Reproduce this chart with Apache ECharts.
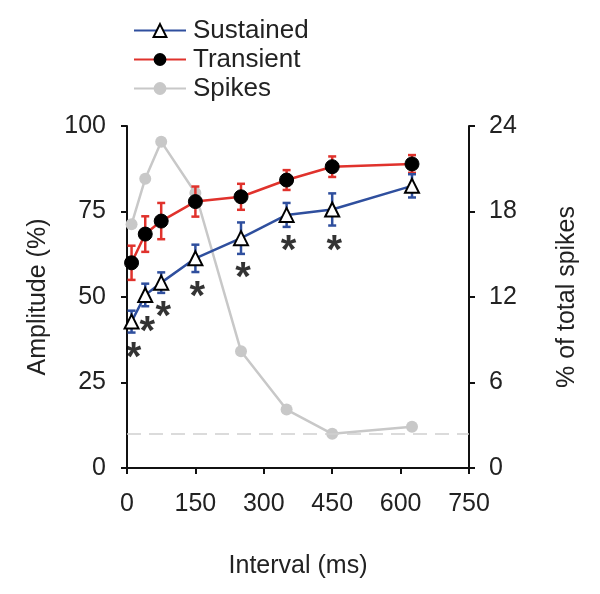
<!DOCTYPE html>
<html><head><meta charset="utf-8">
<script src="https://cdn.jsdelivr.net/npm/echarts@6/dist/echarts.min.js"></script>
<style>html,body{margin:0;padding:0;background:#fff}#c{width:600px;height:594px}</style>
</head><body><div id="c"></div>
<script>
const intervals = [10, 40, 75, 150, 250, 350, 450, 625];
const sustained = [42.8, 50.6, 54.2, 61.3, 67.2, 74.0, 75.6, 82.5];
const sustainedErr = [3.2, 3.3, 3.0, 4.0, 4.6, 3.5, 4.7, 3.4];
const transient = [60.0, 68.4, 72.2, 77.9, 79.3, 84.2, 88.1, 88.9];
const transientErr = [5.0, 5.2, 5.3, 4.4, 3.8, 2.9, 3.0, 2.6];
const spikes = [17.1, 20.3, 22.9, 19.3, 8.2, 4.1, 2.4, 2.9];
const dashedLevel = 2.4;
const starX = [10, 40, 75, 150, 250, 350, 450];
const starY = [34.8, 42.4, 46.9, 52.6, 58.2, 66.2, 66.2];
const xTicks = [0, 150, 300, 450, 600, 750];

const FONT = '"Liberation Sans", Arial, sans-serif';
const TXT = '#222';
const BLUE = '#2f4f9e', RED = '#e0322c', GRAY = '#c8c8c8';

function errData(vals, errs) {
  return intervals.map((x, i) => [x, vals[i] - errs[i], vals[i] + errs[i]]);
}
function errSeries(name, vals, errs, color) {
  return {
    name: name + ' err', type: 'custom', yAxisIndex: 0, z: 3,
    data: errData(vals, errs),
    renderItem: function (params, api) {
      const x = api.value(0);
      const lo = api.coord([x, api.value(1)]);
      const hi = api.coord([x, api.value(2)]);
      const w = 4;
      const st = { stroke: color, lineWidth: 2.5 };
      return { type: 'group', children: [
        { type: 'line', shape: { x1: lo[0], y1: lo[1], x2: hi[0], y2: hi[1] }, style: st },
        { type: 'line', shape: { x1: lo[0] - w, y1: lo[1], x2: lo[0] + w, y2: lo[1] }, style: st },
        { type: 'line', shape: { x1: hi[0] - w, y1: hi[1], x2: hi[0] + w, y2: hi[1] }, style: st }
      ]};
    }
  };
}
const axisCommon = {
  axisLine: { show: true, lineStyle: { color: '#111', width: 2 } },
  axisTick: { show: true, inside: false, length: 6, lineStyle: { color: '#111', width: 2 } },
  axisLabel: { color: TXT, fontSize: 25, fontFamily: FONT },
  splitLine: { show: false }
};
const chart = echarts.init(document.getElementById('c'));
chart.setOption({
  animation: false,
  backgroundColor: '#fff',
  textStyle: { fontFamily: FONT },
  grid: { left: 127, right: 131, top: 126, bottom: 126, containLabel: false },
  legend: {
    orient: 'vertical', left: 128, top: 12, itemWidth: 52, itemHeight: 16, itemGap: 2,
    data: ['Sustained', 'Transient', 'Spikes'],
    textStyle: { color: TXT, fontSize: 26, fontFamily: FONT, lineHeight: 27, padding: [0, 0, 0, 2] }
  },
  xAxis: Object.assign({}, axisCommon, {
    type: 'value', min: 0, max: 750, interval: 150,
    name: 'Interval (ms)', nameLocation: 'middle', nameGap: 86,
    nameTextStyle: { color: TXT, fontSize: 25, fontFamily: FONT },
    axisLabel: Object.assign({}, axisCommon.axisLabel, { margin: 24, customValues: xTicks })
  }),
  yAxis: [
    Object.assign({}, axisCommon, {
      type: 'value', min: 0, max: 100, interval: 25, position: 'left',
      name: 'Amplitude (%)', nameLocation: 'middle', nameGap: 76,
      nameTextStyle: { color: TXT, fontSize: 25, fontFamily: FONT },
      axisLabel: Object.assign({}, axisCommon.axisLabel, { margin: 21 })
    }),
    Object.assign({}, axisCommon, {
      type: 'value', min: 0, max: 24, interval: 6, position: 'right',
      name: '% of total spikes', nameLocation: 'middle', nameGap: 86, nameRotate: 90,
      nameTextStyle: { color: TXT, fontSize: 25, fontFamily: FONT },
      axisLabel: Object.assign({}, axisCommon.axisLabel, { margin: 20 })
    })
  ],
  series: [
    {
      name: 'Spikes', type: 'line', yAxisIndex: 1, z: 1,
      data: intervals.map((x, i) => [x, spikes[i]]),
      symbol: 'circle', symbolSize: 12,
      lineStyle: { color: GRAY, width: 2.5 },
      itemStyle: { color: GRAY },
      markLine: {
        silent: true, symbol: 'none', label: { show: false },
        lineStyle: { color: '#d0d0d0', type: [14, 8], width: 1.5 },
        data: [{ yAxis: dashedLevel }]
      }
    },
    errSeries('Transient', transient, transientErr, RED),
    errSeries('Sustained', sustained, sustainedErr, BLUE),
    {
      name: 'Transient', type: 'line', yAxisIndex: 0, z: 4,
      data: intervals.map((x, i) => [x, transient[i]]),
      symbol: 'circle', symbolSize: 14,
      lineStyle: { color: RED, width: 2.5 },
      itemStyle: { color: '#000', borderColor: '#000' }
    },
    {
      name: 'Sustained', type: 'line', yAxisIndex: 0, z: 5,
      data: intervals.map((x, i) => [x, sustained[i]]),
      symbol: 'triangle', symbolSize: 14,
      lineStyle: { color: BLUE, width: 2.5 },
      itemStyle: { color: '#fff', borderColor: '#000', borderWidth: 2 }
    },
    {
      name: 'stars', type: 'scatter', yAxisIndex: 0, z: 6,
      data: starX.map((x, i) => [x, starY[i]]),
      symbolSize: 1, itemStyle: { color: 'rgba(0,0,0,0)' },
      label: { show: true, position: 'inside', formatter: '*', color: '#000', fontSize: 40, fontWeight: 'bold', fontFamily: FONT, offset: [2, 10] }
    }
  ]
});
</script></body></html>
